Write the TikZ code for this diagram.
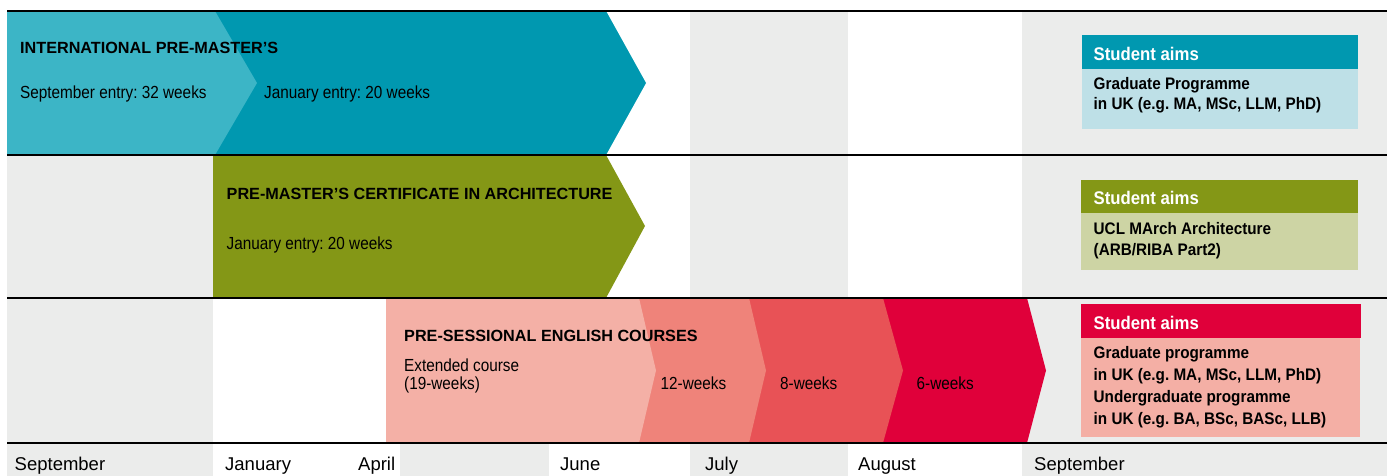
\documentclass[tikz,border=0pt]{standalone}
\usepackage{fontspec}
\usepackage{graphicx}
\setmainfont{Liberation Sans}
\frenchspacing
\newcommand\narrowtxt[1]{\scalebox{0.875}[1]{#1}}
\newcommand\narrowbold[1]{\scalebox{0.915}[1]{#1}}
\definecolor{colgray}{HTML}{EBECEB}
\definecolor{tealL}{HTML}{3CB5C6}
\definecolor{tealD}{HTML}{0098B0}
\definecolor{tealBody}{HTML}{BEE0E7}
\definecolor{olive}{HTML}{849716}
\definecolor{oliveBody}{HTML}{CDD4A4}
\definecolor{pinkA}{HTML}{F4B0A6}
\definecolor{pinkB}{HTML}{EF837A}
\definecolor{pinkC}{HTML}{E85256}
\definecolor{crimson}{HTML}{E0003A}
\definecolor{pinkBody}{HTML}{F4AFA5}
\tikzset{
  titletxt/.style={anchor=base west, inner sep=0pt, font=\frenchspacing\bfseries\fontsize{16.2}{19}\selectfont},
  bodytxt/.style={anchor=base west, inner sep=0pt, font=\frenchspacing\fontsize{17.5}{20}\selectfont},
  aimhead/.style={anchor=base west, inner sep=0pt, text=white, font=\frenchspacing\bfseries\fontsize{18.3}{21}\selectfont},
  aimtxt/.style={anchor=base west, inner sep=0pt, font=\frenchspacing\bfseries\fontsize{16.7}{19}\selectfont},
  axistxt/.style={anchor=base west, inner sep=0pt, font=\frenchspacing\fontsize{18.5}{21}\selectfont},
  rowline/.style={line width=2pt, black},
}
\begin{document}
\begin{tikzpicture}[x=1pt, y=-1pt]
\useasboundingbox (0,0) rectangle (1387,476);
% column stripes
\fill[colgray] (7,11) rectangle (213,476);
\fill[colgray] (400,11) rectangle (549,476);
\fill[colgray] (690,11) rectangle (848,476);
\fill[colgray] (1022,11) rectangle (1387,476);
% row 1
\fill[tealD] (7,11) -- (606,11) -- (646,83) -- (606,155) -- (7,155) -- cycle;
\fill[tealL] (7,11) -- (215,11) -- (257,83) -- (215,155) -- (7,155) -- cycle;
% row 2
\fill[olive] (213,155) -- (606,155) -- (645,226) -- (606,298) -- (213,298) -- cycle;
% row 3
\fill[crimson] (386,298) -- (1027,298) -- (1046,370.5) -- (1027,443) -- (386,443) -- cycle;
\fill[pinkC] (386,298) -- (883,298) -- (903,370.5) -- (883,443) -- (386,443) -- cycle;
\fill[pinkB] (386,298) -- (749,298) -- (766,370.5) -- (749,443) -- (386,443) -- cycle;
\fill[pinkA] (386,298) -- (639,298) -- (656,370.5) -- (639,443) -- (386,443) -- cycle;
% row lines
\draw[rowline] (7,11) -- (1387,11);
\draw[rowline] (7,155) -- (1387,155);
\draw[rowline] (7,298) -- (1387,298);
\draw[rowline] (7,443) -- (1387,443);
% aim boxes
\fill[tealD] (1082,35) rectangle (1358,69);
\fill[tealBody] (1082,69) rectangle (1358,129);
\fill[olive] (1081,180) rectangle (1358,213);
\fill[oliveBody] (1081,213) rectangle (1358,270);
\fill[crimson] (1081,304) rectangle (1361,338);
\fill[pinkBody] (1081,338) rectangle (1360,437);
% row texts
\node[titletxt] (t1) at (20,53.3) {INTERNATIONAL PRE-MASTER’S};
\node[bodytxt] (s1) at (20,98.3) {\narrowtxt{September entry: 32 weeks}};
\node[bodytxt] (j1) at (264,98.3) {\narrowtxt{January entry: 20 weeks}};
\node[titletxt] (t2) at (226.5,199.3) {PRE-MASTER’S CERTIFICATE IN ARCHITECTURE};
\node[bodytxt] (j2) at (226.5,249.3) {\narrowtxt{January entry: 20 weeks}};
\node[titletxt] (t3) at (404,341.7) {PRE-SESSIONAL ENGLISH COURSES};
\node[bodytxt] (e3) at (404,371.7) {\narrowtxt{Extended course}};
\node[bodytxt] (e3b) at (404,389) {\narrowtxt{(19-weeks)}};
\node[bodytxt] (w12) at (660.5,389.3) {\narrowtxt{12-weeks}};
\node[bodytxt] (w8) at (780,389.3) {\narrowtxt{8-weeks}};
\node[bodytxt] (w6) at (916.5,389.3) {\narrowtxt{6-weeks}};
% aims texts
\node[aimhead] (h1) at (1093.5,61) {\narrowbold{Student aims}};
\node[aimtxt] (a1a) at (1093.5,89.3) {\narrowbold{Graduate Programme}};
\node[aimtxt] (a1b) at (1093.5,110) {\narrowbold{in UK (e.g. MA, MSc, LLM, PhD)}};
\node[aimhead] (h2) at (1093.5,204.3) {\narrowbold{Student aims}};
\node[aimtxt] (a2a) at (1093.5,234) {\narrowbold{UCL MArch Architecture}};
\node[aimtxt] (a2b) at (1093.5,255.7) {\narrowbold{(ARB/RIBA Part2)}};
\node[aimhead] (h3) at (1093.5,329.3) {\narrowbold{Student aims}};
\node[aimtxt] (a3a) at (1093.5,358.3) {\narrowbold{Graduate programme}};
\node[aimtxt] (a3b) at (1093.5,380) {\narrowbold{in UK (e.g. MA, MSc, LLM, PhD)}};
\node[aimtxt] (a3c) at (1093.5,402.7) {\narrowbold{Undergraduate programme}};
\node[aimtxt] (a3d) at (1093.5,424) {\narrowbold{in UK (e.g. BA, BSc, BASc, LLB)}};
% axis
\node[axistxt] (m1) at (14.5,470) {September};
\node[axistxt] (m2) at (225,470) {January};
\node[axistxt] (m3) at (358,470) {April};
\node[axistxt] (m4) at (560,470) {June};
\node[axistxt] (m5) at (705,470) {July};
\node[axistxt] (m6) at (858,470) {August};
\node[axistxt] (m7) at (1034,470) {September};
\end{tikzpicture}
\end{document}
